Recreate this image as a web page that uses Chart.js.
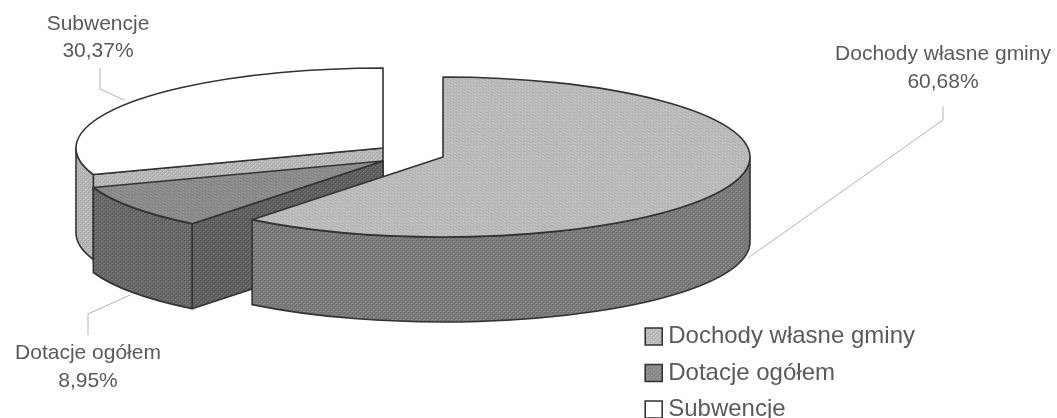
<!DOCTYPE html>
<html><head><meta charset="utf-8">
<style>html,body{margin:0;padding:0;background:#fff;overflow:hidden}
#w{width:1057px;height:418px;filter:blur(0.45px)}</style>
<script src="https://cdn.jsdelivr.net/npm/chart.js@4"></script>
</head><body><div id="w"><canvas id="c" width="1057" height="418"></canvas></div>
<script>
const categories = ['Dochody własne gminy', 'Dotacje ogółem', 'Subwencje'];
const shares = [60.68, 8.95, 30.37];

// Presentation of the tilted, exploded pie
const topShades = [190, 143, 255];
const wallShades = [126, 108, 184];
const faceShades = [0, 100, 186];
const sliceCentres = [[443, 157], [383, 161], [383, 148]];
const paintOrder = [2, 1, 0];
const radiusX = 307, radiusY = 80, depth = 85;
const inkColour = '#333333';
const textColour = '#5a5a5a';
const leaderColour = '#b4b4b4';
const labelSize = 21;
const dataLabels = [
  {x: 943, y1: 54, y2: 82, leader: [[943, 106], [943, 120], [748, 258]]},
  {x: 88, y1: 353, y2: 381, leader: [[88, 335], [88, 314], [130, 295]]},
  {x: 98, y1: 24, y2: 51, leader: [[100, 68], [100, 89], [124, 100]]}
];

function dither(shade) {
  if (shade >= 255) return '#ffffff';
  const p = document.createElement('canvas');
  p.width = p.height = 4;
  const g = p.getContext('2d');
  g.fillStyle = `rgb(${shade},${shade},${shade})`;
  g.fillRect(0, 0, 4, 4);
  const a = Math.max(shade - 14, 0), b = Math.min(shade + 14, 255);
  g.fillStyle = `rgb(${a},${a},${a})`;
  g.fillRect(0, 0, 2, 2); g.fillRect(2, 2, 2, 2);
  g.fillStyle = `rgb(${b},${b},${b})`;
  g.fillRect(1, 1, 1, 1); g.fillRect(3, 3, 1, 1);
  return g.createPattern(p, 'repeat');
}
const topFills = topShades.map(dither);
const wallFills = wallShades.map(dither);
const faceFills = faceShades.map(dither);

const tiltedPie = {
  id: 'tiltedPie',
  beforeDatasetsDraw(chart) {
    const ctx = chart.ctx;
    const arcs = chart.getDatasetMeta(0).data;
    paintOrder.forEach(i => {
      const arc = arcs[i];
      const [cx, cy] = sliceCentres[i];
      const a0 = arc.startAngle, a1 = arc.endAngle;
      const sx = radiusX / arc.outerRadius, sy = radiusY / arc.outerRadius;
      ctx.save();
      ctx.lineJoin = 'round';
      ctx.strokeStyle = inkColour;
      ctx.lineWidth = 1.6;
      // side face on the cut that looks towards the viewer
      if (Math.cos(a0) < -1e-6) {
        const ex = cx + radiusX * Math.cos(a0), ey = cy + radiusY * Math.sin(a0);
        ctx.beginPath();
        ctx.moveTo(cx, cy); ctx.lineTo(ex, ey);
        ctx.lineTo(ex, ey + depth); ctx.lineTo(cx, cy + depth);
        ctx.closePath();
        ctx.fillStyle = faceFills[i];
        ctx.fill(); ctx.stroke();
      }
      // outer wall, only where the rim faces the viewer
      const w0 = Math.max(a0, 0), w1 = Math.min(a1, Math.PI);
      if (w1 > w0) {
        ctx.beginPath();
        ctx.ellipse(cx, cy, radiusX, radiusY, 0, w0, w1);
        ctx.ellipse(cx, cy + depth, radiusX, radiusY, 0, w1, w0, true);
        ctx.closePath();
        ctx.fillStyle = wallFills[i];
        ctx.fill(); ctx.stroke();
      }
      // top face: the library's own arc element, under the tilt transform
      ctx.save();
      ctx.translate(cx, cy);
      ctx.scale(sx, sy);
      ctx.translate(-arc.x, -arc.y);
      arc.draw(ctx);
      ctx.restore();
      ctx.beginPath();
      ctx.moveTo(cx, cy);
      ctx.ellipse(cx, cy, radiusX, radiusY, 0, a0, a1);
      ctx.closePath();
      ctx.stroke();
      ctx.restore();
    });
    return false;
  },
  afterDraw(chart) {
    const ctx = chart.ctx;
    ctx.save();
    ctx.textAlign = 'center';
    ctx.textBaseline = 'middle';
    dataLabels.forEach((d, i) => {
      ctx.strokeStyle = leaderColour;
      ctx.lineWidth = 1;
      ctx.beginPath();
      d.leader.forEach((p, k) => k ? ctx.lineTo(p[0], p[1]) : ctx.moveTo(p[0], p[1]));
      ctx.stroke();
      ctx.fillStyle = textColour;
      ctx.font = `${labelSize}px "Liberation Sans"`;
      ctx.fillText(categories[i], d.x, d.y1);
      ctx.fillText(shares[i].toFixed(2).replace('.', ',') + '%', d.x, d.y2);
    });
    ctx.restore();
  }
};

new Chart(document.getElementById('c'), {
  type: 'pie',
  data: {
    labels: categories,
    datasets: [{data: shares, backgroundColor: topFills, borderWidth: 0}]
  },
  plugins: [tiltedPie],
  options: {
    responsive: false,
    animation: false,
    devicePixelRatio: 1,
    layout: {padding: {right: 132, bottom: -16}},
    plugins: {
      tooltip: {enabled: false},
      legend: {
        position: 'right',
        align: 'end',
        labels: {
          usePointStyle: true,
          boxWidth: 5, boxHeight: 17, padding: 12.5,
          color: textColour,
          font: {family: '"Liberation Sans"', size: 24},
          generateLabels(chart) {
            return Chart.overrides.pie.plugins.legend.labels.generateLabels(chart).map(l => ({
              ...l, pointStyle: 'rect', strokeStyle: inkColour, lineWidth: 1.6, fontColor: textColour
            }));
          }
        }
      }
    }
  }
});
</script></body></html>
